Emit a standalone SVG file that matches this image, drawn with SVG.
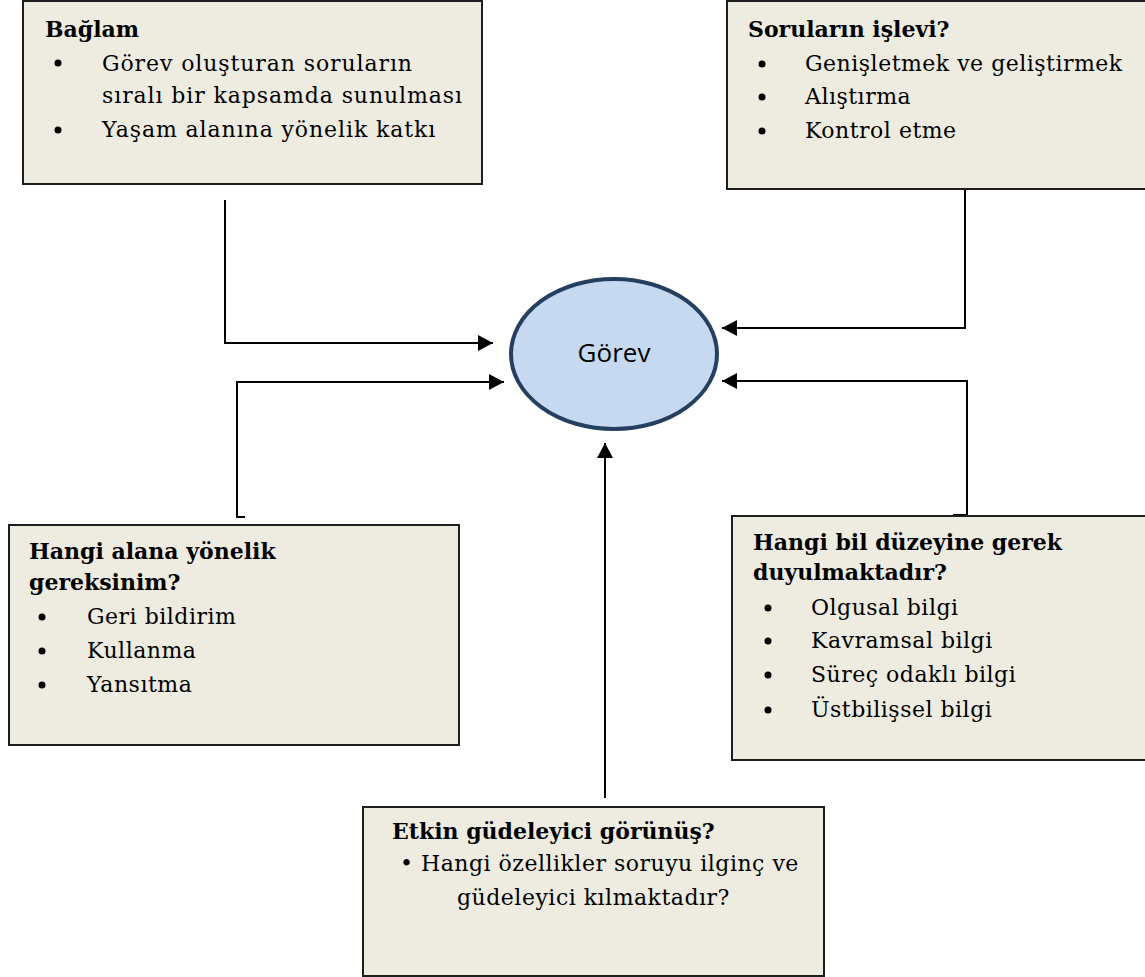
<svg xmlns="http://www.w3.org/2000/svg" width="1145" height="977" viewBox="0 0 1145 977">
<defs>
<style>
.box{fill:#eeece1;stroke:#1e1e1e;stroke-width:2}
.t{font-family:"DejaVu Serif","Liberation Serif",serif;font-size:22px;font-weight:bold;fill:#000}
.b{font-family:"DejaVu Serif","Liberation Serif",serif;font-size:22px;fill:#000;letter-spacing:0.5px}
.bw{letter-spacing:0.9px}
.dot{fill:#000}
.c{fill:none;stroke:#000;stroke-width:2}
</style>
<marker id="ah" markerUnits="userSpaceOnUse" markerWidth="16" markerHeight="16" refX="15" refY="8" orient="auto">
<path d="M0,0 L15,8 L0,16 Z" fill="#000"/>
</marker>
</defs>
<rect width="1145" height="977" fill="#fff"/>

<g id="connectors">
<path class="c" d="M225,200 L225,343 L493,343" marker-end="url(#ah)"/>
<path class="c" d="M953,189 L965,189 L965,328 L722,328" marker-end="url(#ah)"/>
<path class="c" d="M245,517 L237,517 L237,382 L504,382" marker-end="url(#ah)"/>
<path class="c" d="M953,515 L967,515 L967,381 L722,381" marker-end="url(#ah)"/>
<path class="c" d="M605,798 L605,443" marker-end="url(#ah)"/>
</g>

<g id="center">
<ellipse cx="614" cy="354" rx="103" ry="75" fill="#c6d9f1" stroke="#243f60" stroke-width="4"/>
<text x="614" y="362" text-anchor="middle" font-family="Open Sans, sans-serif" font-size="26" fill="#000">Görev</text>
</g>

<g id="baglam">
<rect class="box" x="23" y="1" width="459" height="183"/>
<text class="t" x="45" y="37">Bağlam</text>
<circle class="dot" cx="58" cy="63" r="3.5"/>
<text class="b bw" x="102" y="71">Görev oluşturan soruların</text>
<text class="b bw" x="102" y="103">sıralı bir kapsamda sunulması</text>
<circle class="dot" cx="58" cy="130" r="3.5"/>
<text class="b bw" x="102" y="137">Yaşam alanına yönelik katkı</text>
</g>

<g id="islev">
<rect class="box" x="727" y="1" width="425" height="188"/>
<text class="t" x="748" y="37">Soruların işlevi?</text>
<circle class="dot" cx="762" cy="64" r="3.5"/>
<text class="b" x="805" y="71">Genişletmek ve geliştirmek</text>
<circle class="dot" cx="762" cy="97" r="3.5"/>
<text class="b" x="805" y="104">Alıştırma</text>
<circle class="dot" cx="762" cy="131" r="3.5"/>
<text class="b" x="805" y="138">Kontrol etme</text>
</g>

<g id="alan">
<rect class="box" x="9" y="525" width="450" height="220"/>
<text class="t" x="29" y="559">Hangi alana yönelik</text>
<text class="t" x="29" y="590">gereksinim?</text>
<circle class="dot" cx="42" cy="617" r="3.5"/>
<text class="b" x="87" y="624">Geri bildirim</text>
<circle class="dot" cx="42" cy="651" r="3.5"/>
<text class="b" x="87" y="658">Kullanma</text>
<circle class="dot" cx="42" cy="685" r="3.5"/>
<text class="b" x="87" y="692">Yansıtma</text>
</g>

<g id="bilgi">
<rect class="box" x="732" y="516" width="420" height="244"/>
<text class="t" x="753" y="550">Hangi bil düzeyine gerek</text>
<text class="t" x="753" y="580">duyulmaktadır?</text>
<circle class="dot" cx="768" cy="608" r="3.5"/>
<text class="b" x="811" y="615">Olgusal bilgi</text>
<circle class="dot" cx="768" cy="641" r="3.5"/>
<text class="b" x="811" y="648">Kavramsal bilgi</text>
<circle class="dot" cx="768" cy="675" r="3.5"/>
<text class="b" x="811" y="682">Süreç odaklı bilgi</text>
<circle class="dot" cx="768" cy="710" r="3.5"/>
<text class="b" x="811" y="717">Üstbilişsel bilgi</text>
</g>

<g id="etkin">
<rect class="box" x="363" y="807" width="461" height="169"/>
<text class="t" x="392" y="839">Etkin güdeleyici görünüş?</text>
<text class="b" x="400" y="871">• Hangi özellikler soruyu ilginç ve</text>
<text class="b" x="457" y="905">güdeleyici kılmaktadır?</text>
</g>
</svg>
